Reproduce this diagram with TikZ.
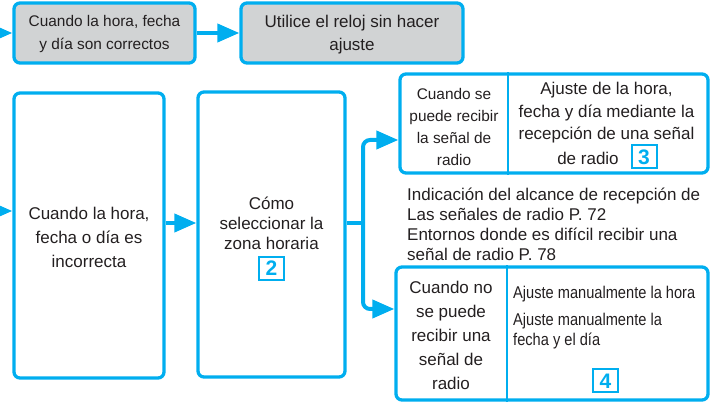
\documentclass[tikz,border=0pt]{standalone}
\usepackage{fontspec}
\setmainfont{Liberation Sans}
\newfontfamily\condfont[FakeStretch=0.86]{Liberation Sans}
\usetikzlibrary{arrows.meta}
\definecolor{cblue}{HTML}{00AEEF}
\definecolor{cgray}{HTML}{D1D3D4}
\definecolor{ctext}{HTML}{231F20}
\begin{document}
\begin{tikzpicture}[x=1pt,y=-1pt,
  box/.style={draw=cblue, line width=3.3pt, rounded corners=6pt, inner sep=0pt},
  txt/.style={text=ctext, inner sep=0pt, align=center},
  fa/.style={font=\fontsize{17}{24}\selectfont},
  num/.style={draw=cblue, line width=2pt, text=cblue, font=\fontsize{21}{21}\selectfont\bfseries, minimum width=25pt, minimum height=23pt, inner sep=0pt},
  arr/.style={draw=cblue, line width=4pt, -{Triangle[length=22pt,width=18pt]}},
  conn/.style={draw=cblue, line width=4pt},
  divider/.style={draw=cblue, line width=2.5pt}]
\path[use as bounding box, clip] (0,0) rectangle (721,403);

% boxes
\node[box, fill=cgray, minimum width=181pt, minimum height=60pt] (b1) at (104.5,33) {};
\node[box, fill=cgray, minimum width=222pt, minimum height=60pt] (b2) at (352,33) {};
\node[box, minimum width=150pt, minimum height=285pt] (b3) at (89,235.5) {};
\node[box, minimum width=147pt, minimum height=285pt] (b4) at (271.5,234.5) {};
\node[box, minimum width=308pt, minimum height=99pt] (b5) at (554,123.5) {};
\node[box, minimum width=312pt, minimum height=133pt] (b6) at (552,333.5) {};

% dividers
\coordinate (d5) at (508,0);
\coordinate (d6) at (507,0);
\draw[divider] (b5.north -| d5) -- (b5.south -| d5);
\draw[divider] (b6.north -| d6) -- (b6.south -| d6);

% texts
\node[txt, font=\fontsize{15.4}{23}\selectfont] (t1) at (104.5,34.5) {Cuando la hora, fecha\\y día son correctos};
\node[txt, font=\fontsize{17}{23}\selectfont] (t2) at (352,34.5) {Utilice el reloj sin hacer\\ajuste};
\node[txt, fa] (t3) at (89,237) {Cuando la hora,\\fecha o día es\\incorrecta};
\node[txt, font=\fontsize{17}{20}\selectfont] (t4) at (271.5,223) {Cómo\\seleccionar la\\zona horaria};
\node[num] (n2) at (271.5,268.5) {2};

\node[txt, font=\fontsize{15.4}{22}\selectfont] (t5l) at (454,127) {Cuando se\\puede recibir\\la señal de\\radio};
\node[txt, font=\fontsize{17}{22.5}\selectfont] (t5r) at (606.5,113) {Ajuste de la hora,\\fecha y día mediante la\\recepción de una señal};
\node[txt, font=\fontsize{17}{22.5}\selectfont] (t5d) at (588,158) {de radio};
\node[num] (n3) at (644,157) {3};

\node[txt, align=left, anchor=west, font=\fontsize{17}{20}\selectfont] (info) at (407,224) {Indicación del alcance de recepción de\\Las señales de radio P. 72\\Entornos donde es difícil recibir una\\señal de radio P. 78};

\node[txt, fa] (t6l) at (451,335.5) {Cuando no\\se puede\\recibir una\\señal de\\radio};
\node[txt, align=left, anchor=west, font=\condfont\fontsize{17}{20}\selectfont] (t6a) at (513,294) {Ajuste manualmente la hora};
\node[txt, align=left, anchor=west, font=\condfont\fontsize{17}{20}\selectfont] (t6b) at (513,331) {Ajuste manualmente la\\fecha y el día};
\node[num] (n4) at (605.5,381) {4};

% connectors
\coordinate (s1) at (-12,33);
\coordinate (s3) at (-12,211);
\coordinate (y34) at (0,223);
\coordinate (j) at (363,223);
\coordinate (up) at (0,140);
\coordinate (dn) at (0,309);
\draw[arr] (s1) -- (b1.west);
\draw[arr] (b1.east) -- (b2.west);
\draw[arr] (s3) -- (s3 -| b3.west);
\draw[arr] (y34 -| b3.east) -- (y34 -| b4.west);
\draw[conn] (j -| b4.east) -- (j);
\draw[arr, rounded corners=7pt] (j) |- (up -| b5.west);
\draw[arr, rounded corners=7pt] (j) |- (dn -| b6.west);
\end{tikzpicture}
\end{document}
